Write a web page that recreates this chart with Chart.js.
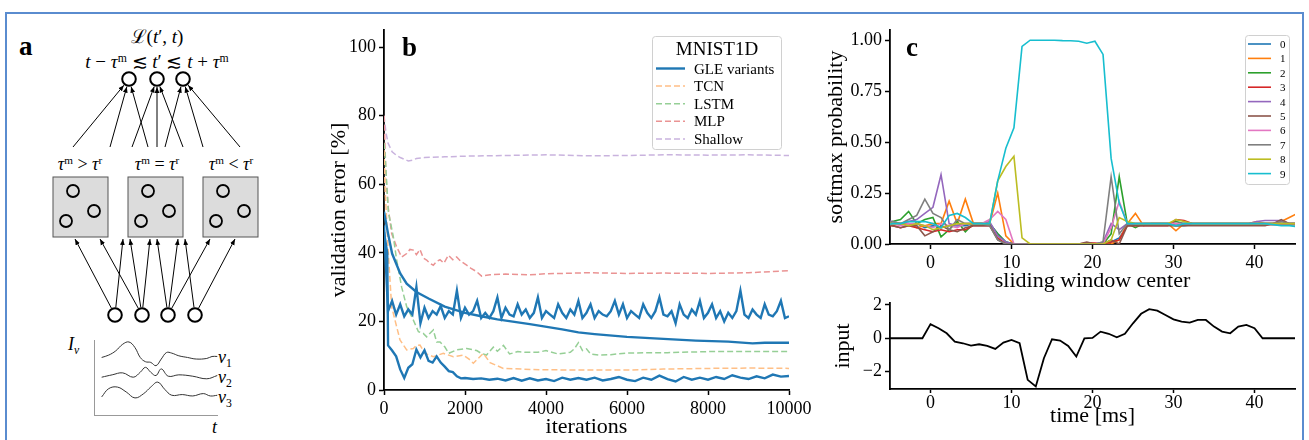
<!DOCTYPE html>
<html>
<head>
<meta charset="utf-8">
<script src="https://cdn.jsdelivr.net/npm/chart.js@4.4.0/dist/chart.umd.min.js"></script>
<style>
  body { margin: 0; background: #fff; width: 1309px; height: 440px; overflow: hidden; position: relative;
         font-family: 'Liberation Serif', 'DejaVu Serif', serif; color: #000; }
  canvas, svg { position: absolute; }
  .frame { position: absolute; left: 5px; top: 12px; width: 1299px; height: 440px; border: 2px solid #5a8ccf; box-sizing: border-box; }
  .m { position: absolute; text-align: center; white-space: nowrap; line-height: 1; }
  .m i { font-style: italic; }
  .m sup { font-size: 0.62em; line-height: 0; vertical-align: 0.55em; font-style: normal; }
  .m sub { font-size: 0.65em; line-height: 0; vertical-align: -0.3em; }
  .lab { position: absolute; font-weight: bold; font-size: 27px; line-height: 1; }
</style>
</head>
<body>
<div class="frame"></div>

<!-- panel a: schematic -->
<svg id="diag" width="330" height="440" style="left:0;top:0"></svg>
<div class="lab" style="left:19px;top:33px">a</div>
<div class="m" style="left:90px;top:27px;width:134px;font-size:19px">ℒ(<i>t</i>′, <i>t</i>)</div>
<div class="m" style="left:50px;top:52px;width:214px;font-size:19px"><i>t</i> − <i>τ</i><sup>m</sup> ≲ <i>t</i>′ ≲ <i>t</i> + <i>τ</i><sup>m</sup></div>
<div class="m" style="left:40px;top:155px;width:80px;font-size:18px"><i>τ</i><sup>m</sup> &gt; <i>τ</i><sup>r</sup></div>
<div class="m" style="left:117px;top:155px;width:80px;font-size:18px"><i>τ</i><sup>m</sup> = <i>τ</i><sup>r</sup></div>
<div class="m" style="left:191px;top:155px;width:80px;font-size:18px"><i>τ</i><sup>m</sup> &lt; <i>τ</i><sup>r</sup></div>
<div class="m" style="left:68px;top:335px;font-size:18px"><i>I</i><sub><i>ν</i></sub></div>
<div class="m" style="left:218px;top:348px;font-size:18px"><i>ν</i><sub>1</sub></div>
<div class="m" style="left:218px;top:368px;font-size:18px"><i>ν</i><sub>2</sub></div>
<div class="m" style="left:218px;top:388px;font-size:18px"><i>ν</i><sub>3</sub></div>
<div class="m" style="left:212px;top:418px;font-size:18px"><i>t</i></div>
<canvas id="chartA" width="125" height="76" style="left:93px;top:340px"></canvas>

<!-- panel b -->
<canvas id="chartB" width="494" height="412" style="left:326px;top:28px"></canvas>
<div class="lab" style="left:402px;top:34px">b</div>
<svg id="legB" width="140" height="125" style="left:648px;top:32px"></svg>

<!-- panel c -->
<canvas id="chartC" width="490" height="266" style="left:820px;top:28px"></canvas>
<canvas id="chartD" width="490" height="145" style="left:820px;top:295px"></canvas>
<div class="lab" style="left:906px;top:34px">c</div>
<svg id="legC" width="50" height="155" style="left:1242px;top:32px"></svg>

<script>
// ---------- data: panel a inset (input currents, drawn in arbitrary units) ----------
const nu1X = [7.3, 14, 20.7, 27.3, 33.3, 39, 44, 49, 54, 59, 64, 69, 74, 80.7, 89, 97.3, 107.3, 112.3, 117.3];
const nu1Y = [58.3, 60.7, 65, 71.7, 74, 68.3, 58.3, 54, 53.3, 50, 56.7, 63.3, 62.7, 60, 58.3, 56.7, 57.3, 59.3, 59.3];
const nu2X = [7.3, 17.3, 27.3, 37.3, 44, 49, 54, 59, 64, 70.7, 80.7, 94, 107.3, 117.3];
const nu2Y = [38.3, 40.7, 42.7, 38.3, 43.3, 48.3, 43.3, 40, 46.7, 39.3, 40.7, 39.3, 36.7, 40];
const nu3X = [7.3, 14, 22.3, 30.7, 39, 47.3, 54, 60.7, 67.3, 74, 84, 94, 104, 110.7, 117.3];
const nu3Y = [18.3, 26.7, 28.3, 23.3, 17.3, 21.7, 28.3, 33.3, 26, 20, 20.7, 19.3, 21.7, 19.3, 20];

// ---------- data: panel b (validation error [%] vs iterations) ----------
const iterTicks = [0, 2000, 4000, 6000, 8000, 10000];
const errTicks = [0, 20, 40, 60, 80, 100];

const gleAIter = [0, 80, 100, 200, 300, 400, 500, 600, 700, 800, 900, 1000, 1100, 1200, 1300, 1400, 1500, 1600, 1700, 1800, 1900, 2000,
  2200, 2400, 2600, 2800, 3000, 3200, 3400, 3600, 3800, 4000, 4200, 4400, 4600, 4800, 5000, 5200, 5400, 5600, 5800, 6000,
  6200, 6400, 6600, 6800, 7000, 7200, 7400, 7600, 7800, 8000, 8200, 8400, 8600, 8800, 9000, 9200, 9400, 9600, 9800, 10000];
const gleAErr = [46, 40, 13, 11.5, 9.8, 6, 3.5, 6.5, 7.5, 11.8, 9.5, 11.6, 8.5, 8, 9.8, 8, 6.8, 5.5, 5.2, 4, 3.4, 3.5,
  3.2, 3.4, 3.0, 3.3, 2.8, 3.5, 2.7, 3.4, 2.8, 3.2, 2.6, 3.6, 3.0, 3.5, 3.0, 3.6, 2.8, 3.2, 3.8, 3.0,
  2.6, 3.6, 3.0, 4.2, 3.2, 2.5, 3.8, 3.0, 3.6, 3.0, 3.8, 3.2, 4.3, 3.6, 3.2, 4.0, 3.4, 4.5, 3.9, 4.1];

const gleBIter = [0, 100, 200, 400, 560, 800, 1100, 1500, 2000, 2400, 2800, 3600, 4400, 4800, 5200, 6000, 6900, 7700, 8500, 9100, 9400, 10000];
const gleBErr = [52, 45.6, 39.8, 34, 31, 28.6, 26.7, 24.3, 22.5, 21.5, 20.6, 19.2, 17.7, 16.8, 16.3, 15.5, 14.9, 14.4, 14.1, 13.6, 13.8, 13.8];

const gleCIter = [0, 100, 200, 300, 400, 500, 600, 700, 800, 900, 1000, 1100, 1200, 1300, 1400, 1500, 1600, 1700, 1800, 1900,
  2000, 2100, 2200, 2300, 2400, 2500, 2600, 2700, 2800, 2900, 3000, 3100, 3200, 3300, 3400, 3500, 3600, 3700, 3800, 3900,
  4000, 4100, 4200, 4300, 4400, 4500, 4600, 4700, 4800, 4900, 5000, 5100, 5200, 5300, 5400, 5500, 5600, 5700, 5800, 5900,
  6000, 6100, 6200, 6300, 6400, 6500, 6600, 6700, 6800, 6900, 7000, 7100, 7200, 7300, 7400, 7500, 7600, 7700, 7800, 7900,
  8000, 8100, 8200, 8300, 8400, 8500, 8600, 8700, 8800, 8900, 9000, 9100, 9200, 9300, 9400, 9500, 9600, 9700, 9800, 9900, 10000];
const gleCErr = [48, 23, 26, 22, 25, 21.5, 23.5, 22, 30, 19.5,
  24, 21, 23, 22, 24.5, 21, 23, 22, 29, 21,
  24, 22, 23, 26, 21, 22.5, 21, 23, 27, 21,
  24, 22, 21.5, 25, 22, 23.5, 21, 22.5, 27, 21,
  23, 22, 21, 25, 22.5, 21, 23.5, 22, 26, 21,
  22.5, 25, 21, 23, 22, 21.5, 23, 26, 22, 25,
  21, 23, 22, 21, 25, 22.5, 21, 23, 27, 22,
  21.5, 23, 19.5, 25, 22, 21, 23.5, 22, 26, 21,
  22.5, 25, 21, 23, 20, 22.5, 21, 23, 29, 22,
  21, 23.5, 22, 21, 25, 22, 21.5, 23, 26, 21, 21.5];

const tcnIter = [0, 25, 107, 189, 271, 395, 560, 724, 800, 889, 1012, 1218, 1465, 1712, 1959, 2100, 2206, 2350, 2453, 2617, 2946, 3605, 4000, 5000, 6000, 6897, 8000, 9000, 10000];
const tcnErr = [70, 59, 39.8, 24.3, 20.4, 14.6, 11.7, 12.1, 13, 13.1, 10.7, 9.7, 10.7, 9.7, 10.2, 9, 7.8, 9.5, 10.7, 8, 6.3, 6, 5.9, 5.8, 5.8, 6.1, 6.3, 6.4, 6.3];

const lstmIter = [0, 25, 107, 230, 313, 436, 560, 724, 850, 970, 1053, 1130, 1218, 1300, 1383, 1500, 1600, 1794, 2041, 2288,
  2400, 2532, 2700, 2800, 2950, 3100, 3300, 3500, 3800, 4000, 4300, 4600, 4700, 4800, 4900, 5000, 5100, 5300, 5600, 6000, 7000, 8000, 9000, 10000];
const lstmErr = [72, 69, 52, 44.7, 37.9, 30, 24.3, 20.4, 17, 16.5, 15.5, 16.5, 17.5, 14, 14, 12.6, 10.7, 11.7, 12.1, 11.5,
  10.7, 10.2, 12.5, 11.3, 13, 10.5, 11.2, 11, 11, 11.5, 10.5, 11, 12, 13.8, 11.5, 12, 10.5, 10.2, 10.3, 10.8, 10.9, 11.2, 11.2, 11.2];

const mlpIter = [0, 50, 107, 189, 313, 436, 560, 640, 724, 800, 889, 970, 1053, 1130, 1218, 1300, 1383, 1480, 1588, 1700,
  1794, 1900, 2041, 2150, 2288, 2411, 2617, 3000, 3605, 4000, 4428, 5000, 6000, 6897, 8000, 9000, 10000];
const mlpErr = [80, 62, 53, 45.6, 41.7, 38.8, 39.8, 41, 40.8, 39.5, 41, 38.5, 37.9, 37, 36.4, 37.5, 38, 37, 39.3, 38,
  38.8, 37.5, 36.4, 35.5, 34.5, 33.2, 33.6, 33.8, 33.6, 33.9, 34, 34.2, 34, 34.1, 34, 34.2, 34.8];

const shallowIter = [0, 50, 100, 200, 300, 400, 600, 700, 800, 1000, 1500, 2000, 3000, 4000, 5000, 6000, 7000, 8000, 9000, 10000];
const shallowErr = [80, 75, 72, 69.5, 68.5, 67.8, 66.8, 67, 67.5, 67.8, 68, 68.2, 68.4, 68.6, 68.3, 68.4, 68.6, 68.5, 68.6, 68.4];

// ---------- data: panel c (softmax probability per class vs sliding window center) ----------
const windowTicks = [0, 10, 20, 30, 40];
const probTicks = [0, 0.25, 0.5, 0.75, 1.0];
const windowCenter = [-5.7, -4.7, -3.7, -2.7, -1.7, -0.7, 0.3, 1.3, 2.3, 3.3, 4.3, 5.3, 6.3, 7.3, 8.3, 9.3, 10.3, 11.3, 12.3,
  13.3, 14.3, 15.3, 16.3, 17.3, 18.3, 19.3, 20.3, 21.3, 22.3, 23.3, 24.3, 25.3, 26.3, 27.3, 28.3, 29.3, 30.3, 31.3, 32.3,
  33.3, 34.3, 35.3, 36.3, 37.3, 38.3, 39.3, 40.3, 41.3, 42.3, 43.3, 44.3, 45.3];
const classNames = ['0', '1', '2', '3', '4', '5', '6', '7', '8', '9'];
const classColors = ['#1f77b4', '#ff7f0e', '#2ca02c', '#d62728', '#9467bd', '#8c564b', '#e377c2', '#7f7f7f', '#bcbd22', '#17becf'];
const prob0 = [0.11, 0.10, 0.10, 0.09, 0.10, 0.08, 0.09, 0.08, 0.09, 0.09, 0.09, 0.10, 0.10, 0.10, 0.05, 0.01, 0, 0,
  0, 0, 0, 0, 0, 0, 0, 0, 0, 0, 0.01, 0.03, 0.09,
  0.095, 0.095, 0.095, 0.095, 0.095, 0.09, 0.09, 0.095, 0.095, 0.095, 0.095, 0.095, 0.095, 0.095, 0.095, 0.1, 0.1, 0.1, 0.1, 0.1, 0.1];
const prob1 = [0.10, 0.09, 0.10, 0.10, 0.08, 0.09, 0.10, 0.10, 0.21, 0.10, 0.22, 0.10, 0.10, 0.10, 0.25, 0.04, 0, 0,
  0, 0, 0, 0, 0, 0, 0, 0, 0, 0, 0, 0.02, 0.10,
  0.15, 0.09, 0.10, 0.10, 0.10, 0.065, 0.10, 0.10, 0.10, 0.10, 0.10, 0.10, 0.10, 0.10, 0.10, 0.11, 0.10, 0.10, 0.11, 0.13, 0.15];
const prob2 = [0.10, 0.11, 0.12, 0.16, 0.10, 0.12, 0.13, 0.035, 0.07, 0.11, 0.06, 0.10, 0.10, 0.10, 0.05, 0.01, 0, 0,
  0, 0, 0, 0, 0, 0, 0, 0, 0, 0, 0.05, 0.33, 0.10,
  0.08, 0.10, 0.10, 0.10, 0.10, 0.11, 0.10, 0.10, 0.10, 0.10, 0.10, 0.10, 0.10, 0.10, 0.10, 0.10, 0.10, 0.10, 0.10, 0.10, 0.10];
const prob3 = [0.09, 0.09, 0.08, 0.09, 0.08, 0.07, 0.06, 0.07, 0.06, 0.07, 0.07, 0.09, 0.09, 0.09, 0.03, 0, 0, 0,
  0, 0, 0, 0, 0, 0, 0, 0.005, 0.005, 0, 0.01, 0.02, 0.09,
  0.09, 0.09, 0.09, 0.09, 0.09, 0.12, 0.115, 0.10, 0.095, 0.095, 0.095, 0.095, 0.095, 0.095, 0.095, 0.095, 0.095, 0.095, 0.095, 0.095, 0.095];
const prob4 = [0.12, 0.11, 0.10, 0.11, 0.12, 0.15, 0.18, 0.34, 0.10, 0.09, 0.10, 0.10, 0.10, 0.11, 0.04, 0.01, 0, 0,
  0, 0, 0, 0, 0, 0, 0, 0, 0, 0.01, 0.10, 0.07, 0.10,
  0.10, 0.10, 0.10, 0.10, 0.10, 0.10, 0.10, 0.10, 0.10, 0.10, 0.10, 0.10, 0.10, 0.10, 0.10, 0.11, 0.115, 0.115, 0.115, 0.10, 0.10];
const prob5 = [0.10, 0.09, 0.08, 0.09, 0.09, 0.04, 0.06, 0.09, 0.07, 0.06, 0.08, 0.09, 0.09, 0.09, 0.02, 0, 0, 0,
  0, 0, 0, 0, 0, 0, 0, 0.01, 0, 0, 0.02, 0, 0.09,
  0.09, 0.09, 0.09, 0.09, 0.09, 0.09, 0.09, 0.09, 0.09, 0.09, 0.09, 0.09, 0.09, 0.09, 0.09, 0.09, 0.09, 0.10, 0.12, 0.10, 0.10];
const prob6 = [0.10, 0.10, 0.09, 0.10, 0.10, 0.09, 0.08, 0.10, 0.09, 0.08, 0.10, 0.10, 0.10, 0.12, 0.16, 0.12, 0, 0,
  0, 0, 0, 0, 0, 0, 0, 0, 0, 0, 0.08, 0.21, 0.10,
  0.10, 0.10, 0.10, 0.10, 0.10, 0.10, 0.10, 0.10, 0.10, 0.10, 0.10, 0.10, 0.10, 0.10, 0.10, 0.10, 0.10, 0.10, 0.10, 0.10, 0.10];
const prob7 = [0.10, 0.11, 0.10, 0.12, 0.14, 0.22, 0.15, 0.13, 0.07, 0.12, 0.10, 0.10, 0.10, 0.09, 0.02, 0, 0, 0,
  0, 0, 0, 0, 0, 0, 0, 0, 0, 0.01, 0.33, 0.05, 0.10,
  0.10, 0.10, 0.10, 0.10, 0.10, 0.09, 0.10, 0.10, 0.10, 0.10, 0.10, 0.10, 0.10, 0.10, 0.10, 0.10, 0.10, 0.10, 0.11, 0.10, 0.10];
const prob8 = [0.10, 0.10, 0.10, 0.09, 0.10, 0.09, 0.07, 0.08, 0.09, 0.10, 0.10, 0.10, 0.10, 0.10, 0.31, 0.38, 0.43, 0.03,
  0, 0, 0, 0, 0, 0, 0, 0, 0, 0, 0.02, 0.13, 0.11,
  0.10, 0.10, 0.10, 0.10, 0.10, 0.12, 0.11, 0.10, 0.10, 0.10, 0.10, 0.10, 0.10, 0.10, 0.10, 0.10, 0.10, 0.10, 0.10, 0.10, 0.10];
const prob9 = [0.09, 0.10, 0.10, 0.11, 0.11, 0.11, 0.10, 0.08, 0.14, 0.15, 0.13, 0.10, 0.10, 0.10, 0.31, 0.47, 0.57, 0.97,
  1.0, 1.0, 1.0, 1.0, 0.998, 0.997, 0.995, 0.985, 0.995, 0.93, 0.42, 0.2, 0.10,
  0.10, 0.10, 0.10, 0.10, 0.10, 0.09, 0.10, 0.10, 0.10, 0.10, 0.10, 0.10, 0.10, 0.10, 0.10, 0.10, 0.10, 0.095, 0.09, 0.09, 0.085];
const classProbs = [prob0, prob1, prob2, prob3, prob4, prob5, prob6, prob7, prob8, prob9];

// ---------- data: panel c bottom (input vs time) ----------
const inputTicks = [-2, 0, 2];
const inputTime = [-5, -1, 0, 1, 2, 3, 4, 5, 6, 7, 8, 9, 10, 11, 12, 13, 14, 15, 16, 17, 18, 19, 20,
  21, 22, 23, 24, 25, 26, 27, 28, 29, 30, 31, 32, 33, 34, 35, 36, 37, 38, 39, 40, 41, 45];
const inputValue = [0, 0, 0.85, 0.6, 0.3, -0.2, -0.3, -0.44, -0.36, -0.46, -0.64, -0.26, -0.1, -0.3, -2.5, -2.9, -1.2, -0.06, -0.14, -0.46, -1.1, 0, 0.02,
  0.4, 0.27, 0.06, 0.27, 0.9, 1.47, 1.75, 1.66, 1.4, 1.14, 1.0, 0.94, 1.1, 1.1, 0.7, 0.4, 0.3, 0.7, 0.8, 0.6, 0, 0];

// ---------- helpers ----------
const serif = "'Liberation Serif', 'DejaVu Serif', serif";
Chart.defaults.font.family = serif;
Chart.defaults.color = '#000';

const pairs = (xs, ys) => xs.map((x, i) => ({ x: x, y: ys[i] }));

function axis(min, max, tickList, fitSize, horizontal, title, titlePad, fmt, tickPad, tickLen) {
  return {
    type: 'linear', min: min, max: max,
    afterBuildTicks: s => { s.ticks = tickList.map(v => ({ value: v })); },
    afterFit: s => {
      if (horizontal) s.height = fitSize; else s.width = fitSize;
      // keep the plot area where it is; edge labels may overhang
      s.paddingTop = 0; s.paddingBottom = 0; s.paddingLeft = 0; s.paddingRight = 0;
    },
    ticks: { font: { size: 18 }, color: '#000', padding: tickPad === undefined ? 3 : tickPad, maxRotation: 0, autoSkip: false, callback: fmt },
    grid: { display: true, drawOnChartArea: false, drawTicks: true, tickLength: tickLen || 5, tickWidth: 1.5, color: '#000' },
    border: { display: true, color: '#000', width: 1.8 },
    title: { display: true, text: title, font: { size: 22 }, color: '#000', padding: titlePad }
  };
}

const baseOpts = {
  responsive: false, animation: false, events: [],
  plugins: { legend: { display: false }, tooltip: { enabled: false } },
  elements: { point: { radius: 0 }, line: { tension: 0, borderCapStyle: 'butt' } }
};

// ---------- panel a inset ----------
new Chart(document.getElementById('chartA'), {
  type: 'line',
  data: {
    datasets: [[nu1X, nu1Y], [nu2X, nu2Y], [nu3X, nu3Y]].map(w => ({
      data: pairs(w[0], w[1]), borderColor: '#333', borderWidth: 1, tension: 0.4, fill: false
    }))
  },
  options: Object.assign({}, baseOpts, {
    layout: { padding: 0 },
    scales: {
      x: { type: 'linear', min: 0, max: 118, ticks: { display: false }, grid: { display: false }, border: { color: '#999', width: 1 },
           afterFit: s => { s.height = 1; } },
      y: { type: 'linear', min: 0, max: 76, ticks: { display: false }, grid: { display: false }, border: { color: '#999', width: 1 },
           afterFit: s => { s.width = 1; } }
    }
  })
});

// ---------- panel a network (schematic) ----------
(function () {
  const svg = document.getElementById('diag');
  const NS = 'http://www.w3.org/2000/svg';
  const el = (n, a) => { const e = document.createElementNS(NS, n); for (const k in a) e.setAttribute(k, a[k]); svg.appendChild(e); return e; };
  const defs = el('defs', {});
  const mk = document.createElementNS(NS, 'marker');
  [['id', 'ah'], ['viewBox', '0 0 10 10'], ['refX', '10'], ['refY', '5'], ['markerWidth', '6'], ['markerHeight', '6'], ['orient', 'auto'], ['markerUnits', 'userSpaceOnUse']]
    .forEach(p => mk.setAttribute(p[0], p[1]));
  const mp = document.createElementNS(NS, 'path'); mp.setAttribute('d', 'M0,1 L10,5 L0,9 z'); mp.setAttribute('fill', '#000');
  mk.appendChild(mp); defs.appendChild(mk);

  const topC = [[129, 79], [157, 79], [183, 79]];
  const botC = [[115, 315], [142, 315], [168, 315], [195, 315]];
  const boxes = [[53, 177], [128, 177], [203, 177]];
  const inner = [[20, 14], [41, 34], [13, 44]];
  const up = [[73, 0], [110, 0], [148, 0], [132, 1], [157, 1], [183, 1], [165, 2], [203, 2], [240, 2]];
  const down = [[0, 75], [0, 123], [1, 100], [1, 130], [1, 150], [2, 157], [2, 178], [2, 210], [3, 185], [3, 235]];

  up.forEach(([x0, k]) => {
    const [cx, cy] = topC[k], y0 = 147, dx = cx - x0, dy = cy - y0, d = Math.hypot(dx, dy), r = 8;
    el('line', { x1: x0, y1: y0, x2: cx - dx / d * r, y2: cy - dy / d * r, stroke: '#000', 'stroke-width': 1, 'marker-end': 'url(#ah)' });
  });
  down.forEach(([k, tx]) => {
    const [cx, cy] = botC[k], ty = 239, dx = tx - cx, dy = ty - cy, d = Math.hypot(dx, dy), r = 7.5;
    el('line', { x1: cx + dx / d * r, y1: cy + dy / d * r, x2: tx, y2: ty, stroke: '#000', 'stroke-width': 1, 'marker-end': 'url(#ah)' });
  });
  boxes.forEach(([bx, by]) => {
    el('rect', { x: bx, y: by, width: 55, height: 60, fill: '#dcdcdc', stroke: '#555', 'stroke-width': 1 });
    inner.forEach(([ix, iy]) => el('circle', { cx: bx + ix, cy: by + iy, r: 6, fill: 'none', stroke: '#000', 'stroke-width': 1.8 }));
  });
  topC.concat(botC).forEach(([cx, cy]) => el('circle', { cx: cx, cy: cy, r: 6.8, fill: '#fff', stroke: '#000', 'stroke-width': 2 }));
})();

// ---------- panel b ----------
const dashed = (label, xs, ys, color, order) => ({
  label: label, data: pairs(xs, ys), borderColor: color, borderWidth: 1.5, borderDash: [6, 3], order: order
});
const solid = (label, xs, ys) => ({ label: label, data: pairs(xs, ys), borderColor: '#1f77b4', borderWidth: 2.4, order: 0 });

new Chart(document.getElementById('chartB'), {
  type: 'line',
  data: {
    datasets: [
      solid('GLE variants', gleAIter, gleAErr),
      solid('GLE variants', gleBIter, gleBErr),
      solid('GLE variants', gleCIter, gleCErr),
      dashed('TCN', tcnIter, tcnErr, '#ffbf86', 1),
      dashed('LSTM', lstmIter, lstmErr, '#96cf96', 2),
      dashed('MLP', mlpIter, mlpErr, '#ea9393', 3),
      dashed('Shallow', shallowIter, shallowErr, '#c9b3de', 4)
    ]
  },
  options: Object.assign({}, baseOpts, {
    layout: { padding: { top: 2, right: 31, left: 0, bottom: 0 } },
    scales: {
      x: axis(0, 10000, iterTicks, 50, true, 'iterations', 0, v => String(v)),
      y: axis(0, 105, errTicks, 58, false, 'validation error [%]', 0, v => String(v))
    }
  })
});

// ---------- panel c top ----------
new Chart(document.getElementById('chartC'), {
  type: 'line',
  data: {
    datasets: classProbs.map((p, k) => ({
      label: classNames[k], data: pairs(windowCenter, p), borderColor: classColors[k], borderWidth: 1.6, order: 9 - k
    }))
  },
  options: Object.assign({}, baseOpts, {
    layout: { padding: { top: 2, right: 15, left: 0, bottom: 0 } },
    scales: {
      x: axis(-5, 45, windowTicks, 50, true, 'sliding window center', 0, v => String(v)),
      y: axis(0, 1.05, probTicks, 70, false, 'softmax probability', 3, v => v.toFixed(2))
    }
  })
});

// ---------- panel c bottom ----------
new Chart(document.getElementById('chartD'), {
  type: 'line',
  data: { datasets: [{ label: 'input', data: pairs(inputTime, inputValue), borderColor: '#000', borderWidth: 1.8 }] },
  options: Object.assign({}, baseOpts, {
    layout: { padding: { top: 8, right: 15, left: 0, bottom: 0 } },
    scales: {
      x: axis(-5, 45, windowTicks, 51, true, 'time [ms]', { top: 0, bottom: 11 }, v => String(v), -1, 4),
      y: axis(-3.05, 2.12, inputTicks, 70, false, 'input', 10, v => (v < 0 ? '\u2212' + Math.abs(v) : String(v)))
    }
  })
});

// ---------- legends ----------
(function () {
  const NS = 'http://www.w3.org/2000/svg';
  function add(svg, n, a, txt) {
    const e = document.createElementNS(NS, n);
    for (const k in a) e.setAttribute(k, a[k]);
    if (txt !== undefined) e.textContent = txt;
    svg.appendChild(e); return e;
  }
  // panel b legend (svg origin 648,32)
  const lb = document.getElementById('legB');
  add(lb, 'rect', { x: 4.5, y: 4.5, width: 129, height: 113, rx: 3, fill: '#fff', 'fill-opacity': 0.85, stroke: '#d0d0d0', 'stroke-width': 1 });
  add(lb, 'text', { x: 69, y: 23, 'text-anchor': 'middle', 'font-size': 19, 'font-family': serif }, 'MNIST1D');
  const entries = [['GLE variants', '#1f77b4', 2.4, null], ['TCN', '#ffbf86', 1.5, '6 3'], ['LSTM', '#96cf96', 1.5, '6 3'],
                   ['MLP', '#ea9393', 1.5, '6 3'], ['Shallow', '#c9b3de', 1.5, '6 3']];
  entries.forEach((e, i) => {
    const y = 36.5 + i * 17.6;
    const a = { x1: 8, x2: 37, y1: y, y2: y, stroke: e[1], 'stroke-width': e[2] };
    if (e[3]) a['stroke-dasharray'] = e[3];
    add(lb, 'line', a);
    add(lb, 'text', { x: 46, y: y + 5, 'font-size': 15, 'font-family': serif }, e[0]);
  });
  // panel c legend (svg origin 1242,32)
  const lc = document.getElementById('legC');
  add(lc, 'rect', { x: 3.5, y: 3.5, width: 44, height: 149, rx: 3, fill: '#fff', 'fill-opacity': 0.85, stroke: '#d0d0d0', 'stroke-width': 1 });
  classNames.forEach((nm, k) => {
    const y = 12 + k * 14.4;
    add(lc, 'line', { x1: 6, x2: 29, y1: y, y2: y, stroke: classColors[k], 'stroke-width': 1.6 });
    add(lc, 'text', { x: 38, y: y + 4, 'font-size': 11, 'font-family': serif }, nm);
  });
})();
</script>
</body>
</html>
